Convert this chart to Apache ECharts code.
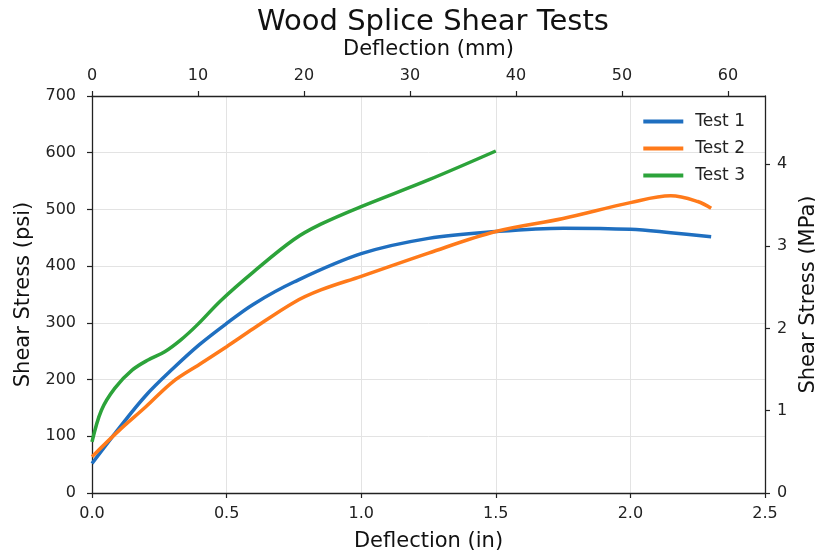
<!DOCTYPE html>
<html>
<head>
<meta charset="utf-8">
<script src="https://cdn.jsdelivr.net/npm/echarts@6/dist/echarts.min.js"></script>
<style>
  html, body { margin: 0; padding: 0; background: #fff; }
  #chart { width: 815px; height: 556px; }
</style>
</head>
<body>
<div id="chart"></div>
<script>
// Deflection (in) and shear stress (psi) for each splice test
const test1X = [0, 0.1, 0.2, 0.3, 0.4, 0.5, 0.6, 0.75, 1.0, 1.25, 1.5, 1.75, 2.0, 2.15, 2.3];
const test1Y = [52, 114, 172, 219, 262, 299, 333, 372, 422, 449, 461, 467, 465, 459, 452];

const test2X = [0, 0.1, 0.2, 0.3, 0.4, 0.5, 0.6, 0.75, 0.85, 1.0, 1.25, 1.5, 1.75, 2.0, 2.15, 2.25, 2.3];
const test2Y = [64, 110, 152, 196, 227, 258, 290, 336, 358, 382, 423, 461, 484, 512, 524, 514, 502];

const test3X = [0, 0.035, 0.085, 0.15, 0.21, 0.27, 0.33, 0.39, 0.48, 0.6, 0.75, 0.85, 1.0, 1.25, 1.5];
const test3Y = [90, 146, 185, 217, 235, 249, 270, 296, 340, 390, 447, 474, 505, 552, 603];

const seriesNames = ['Test 1', 'Test 2', 'Test 3'];
const seriesColors = ['#1f6fc0', '#ff7a1a', '#2ca33a'];

// Unit conversions for the secondary axes
const IN_TO_MM = 25.4;
const PSI_TO_MPA = 0.00689476;
const X_MAX_IN = 2.5;
const Y_MAX_PSI = 700;

const FONT = 'DejaVu Sans';
const AXIS_COLOR = '#222';

function pairs(xs, ys) {
  return xs.map((x, i) => [x, ys[i]]);
}

const chart = echarts.init(document.getElementById('chart'), null, { renderer: 'canvas' });

const axisLineStyle = { show: true, onZero: false, lineStyle: { color: AXIS_COLOR, width: 1.3 } };
const tickStyle = { show: true, inside: false, length: 5, lineStyle: { color: AXIS_COLOR, width: 1.2 } };
const gridLine = { show: true, lineStyle: { color: '#e3e3e3', width: 1 } };
const tickFont = { fontFamily: FONT, fontSize: 16, color: '#222' };
const nameFont = { fontFamily: FONT, fontSize: 21, color: '#111' };

chart.setOption({
  animation: false,
  backgroundColor: '#fff',
  title: {
    text: 'Wood Splice Shear Tests',
    left: 428, top: 3, textAlign: 'center',
    textStyle: { fontFamily: FONT, fontSize: 29, fontWeight: 'normal', color: '#111' }
  },
  legend: {
    data: seriesNames,
    orient: 'vertical',
    right: 65, top: 108,
    itemWidth: 40, itemHeight: 4, itemGap: 10,
    icon: 'rect',
    textStyle: { fontFamily: FONT, fontSize: 17, color: '#222', padding: [0, 0, 0, 7] }
  },
  grid: { left: 92, right: 50, top: 96, bottom: 63, containLabel: false, outerBoundsMode: 'none' },
  xAxis: [
    {
      type: 'value', position: 'bottom', min: 0, max: X_MAX_IN, interval: 0.5,
      name: 'Deflection (in)', nameLocation: 'middle', nameGap: 38,
      nameTextStyle: nameFont,
      axisLine: axisLineStyle, axisTick: tickStyle, splitLine: gridLine,
      axisLabel: Object.assign({ margin: 13, formatter: v => v.toFixed(1) }, tickFont)
    },
    {
      type: 'value', position: 'top', min: 0, max: X_MAX_IN * IN_TO_MM, interval: 10,
      name: 'Deflection (mm)', nameLocation: 'middle', nameGap: 36,
      nameTextStyle: nameFont,
      axisLine: axisLineStyle, axisTick: tickStyle, splitLine: { show: false },
      axisLabel: Object.assign({ margin: 12, showMaxLabel: false }, tickFont)
    }
  ],
  yAxis: [
    {
      type: 'value', position: 'left', min: 0, max: Y_MAX_PSI, interval: 100,
      name: 'Shear Stress (psi)', nameLocation: 'middle', nameGap: 58,
      nameTextStyle: nameFont,
      axisLine: axisLineStyle, axisTick: tickStyle, splitLine: gridLine,
      axisLabel: Object.assign({ margin: 16 }, tickFont)
    },
    {
      type: 'value', position: 'right', min: 0, max: Y_MAX_PSI * PSI_TO_MPA, interval: 1,
      name: 'Shear Stress (MPa)', nameLocation: 'middle', nameGap: 27,
      nameTextStyle: nameFont,
      axisLine: axisLineStyle, axisTick: tickStyle, splitLine: { show: false },
      axisLabel: Object.assign({ margin: 12, showMaxLabel: false }, tickFont)
    }
  ],
  series: [
    { x: test1X, y: test1Y },
    { x: test2X, y: test2Y },
    { x: test3X, y: test3Y }
  ].map((s, i) => ({
    name: seriesNames[i],
    type: 'line',
    xAxisIndex: 0, yAxisIndex: 0,
    data: pairs(s.x, s.y),
    smooth: 0.35,
    symbol: 'none',
    lineStyle: { color: seriesColors[i], width: 3.5 },
    itemStyle: { color: seriesColors[i] },
    z: 3 + i
  }))
});
</script>
</body>
</html>
